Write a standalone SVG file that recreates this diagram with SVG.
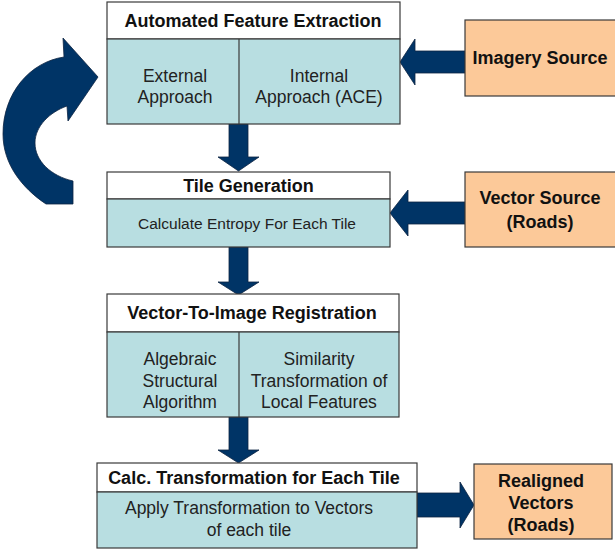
<svg xmlns="http://www.w3.org/2000/svg" width="615" height="550" viewBox="0 0 615 550">
<style>
.box{stroke:#3a3a3a;stroke-width:1.2}
.white{fill:#ffffff}
.teal{fill:#b8dee1}
.orange{fill:#fcc999}
.arrow{fill:#003466;stroke:#0d2341;stroke-width:0.8}
.t{font-family:"Liberation Sans",Arial,sans-serif;text-anchor:middle;fill:#111}
.b{font-weight:bold;font-size:18px}
.r{font-size:17.5px;fill:#222}
.s{font-size:15.5px;fill:#222}
</style>
<rect width="615" height="550" fill="#ffffff"/>
<g id="connectors">
<path class="arrow" d="M46 204 C22 188 3 164 3 134 C3 93 30 62 64 57 L63 38 L98 77 L68 121 L67 106 C50 112 35 126 35 143 C35 161 51 176 73 181 L73 204 Z"/>
<path class="arrow" d="M229 124 L248 124 L248 157 L259 157 L238.5 171 L218 157 L229 157 Z"/>
<path class="arrow" d="M229 247 L248 247 L248 282 L259 282 L238.5 295 L218 282 L229 282 Z"/>
<path class="arrow" d="M229 417 L248 417 L248 450 L259 450 L238.5 463 L218 450 L229 450 Z"/>
<path class="arrow" d="M465 51 L415 51 L415 39 L400 62 L415 85 L415 73 L465 73 Z"/>
<path class="arrow" d="M465 202 L408 202 L408 190 L390 213 L408 236 L408 224 L465 224 Z"/>
<path class="arrow" d="M417 493 L460 493 L460 482 L474 505 L460 528 L460 517 L417 517 Z"/>
</g>
<g id="afe">
<rect class="box white" x="107" y="2" width="293" height="37"/>
<rect class="box teal" x="107" y="39" width="293" height="85"/>
<line class="box" x1="239" y1="39" x2="239" y2="124"/>
<text class="t b" x="253" y="27">Automated Feature Extraction</text>
<text class="t r" x="175" y="82">External</text>
<text class="t r" x="175" y="103">Approach</text>
<text class="t r" x="319" y="82">Internal</text>
<text class="t r" x="319" y="103">Approach (ACE)</text>
</g>
<g id="imagery">
<rect class="box orange" x="465" y="20" width="160" height="76"/>
<text class="t b" x="540" y="64">Imagery Source</text>
</g>
<g id="tile">
<rect class="box white" x="107" y="172" width="283" height="27"/>
<rect class="box teal" x="107" y="199" width="283" height="48"/>
<text class="t b" x="248.5" y="192">Tile Generation</text>
<text class="t s" x="247" y="229">Calculate Entropy For Each Tile</text>
</g>
<g id="vector">
<rect class="box orange" x="465" y="172" width="160" height="75"/>
<text class="t b" x="540" y="204">Vector Source</text>
<text class="t b" x="540" y="228">(Roads)</text>
</g>
<g id="v2i">
<rect class="box white" x="107" y="294" width="292" height="38"/>
<rect class="box teal" x="107" y="332" width="292" height="85"/>
<line class="box" x1="239" y1="332" x2="239" y2="417"/>
<text class="t b" x="252" y="319">Vector-To-Image Registration</text>
<text class="t r" x="180" y="365">Algebraic</text>
<text class="t r" x="180" y="387">Structural</text>
<text class="t r" x="180" y="408">Algorithm</text>
<text class="t r" x="319" y="365">Similarity</text>
<text class="t r" x="319" y="387">Transformation of</text>
<text class="t r" x="319" y="408">Local Features</text>
</g>
<g id="calc">
<rect class="box white" x="97" y="463" width="320" height="29"/>
<rect class="box teal" x="97" y="492" width="320" height="56"/>
<text class="t b" x="254" y="484">Calc. Transformation for Each Tile</text>
<text class="t r" x="249" y="514">Apply Transformation to Vectors</text>
<text class="t r" x="249" y="536">of each tile</text>
</g>
<g id="realigned">
<rect class="box orange" x="474" y="464" width="138" height="75"/>
<text class="t b" x="541" y="487">Realigned</text>
<text class="t b" x="541" y="509">Vectors</text>
<text class="t b" x="541" y="531">(Roads)</text>
</g>
</svg>
